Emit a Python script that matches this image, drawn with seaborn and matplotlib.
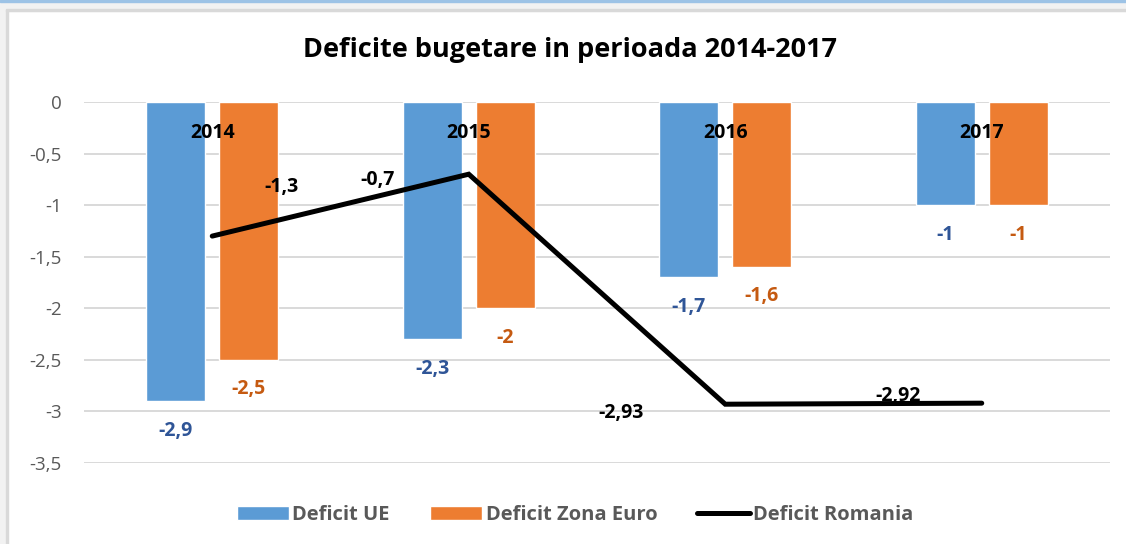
import pandas as pd
import matplotlib.pyplot as plt
from matplotlib.patches import Rectangle
import seaborn as sns

# Data
years = ['2014', '2015', '2016', '2017']
deficit_ue = [-2.9, -2.3, -1.7, -1.0]
deficit_euro = [-2.5, -2.0, -1.6, -1.0]
deficit_romania = [-1.3, -0.7, -2.93, -2.92]
ue_labels = ['-2,9', '-2,3', '-1,7', '-1']
euro_labels = ['-2,5', '-2', '-1,6', '-1']
ro_labels = ['-1,3', '-0,7', '-2,93', '-2,92']
yticks = [0, -0.5, -1, -1.5, -2, -2.5, -3, -3.5]
ytick_labels = ['0', '-0,5', '-1', '-1,5', '-2', '-2,5', '-3', '-3,5']

sns.set_theme(style='white')
plt.rcParams['font.family'] = ['Open Sans', 'DejaVu Sans']

df = pd.DataFrame({
    'an': years * 2,
    'valoare': deficit_ue + deficit_euro,
    'serie': ['Deficit UE'] * 4 + ['Deficit Zona Euro'] * 4,
})
df_ro = pd.DataFrame({'pos': range(len(years)), 'valoare': deficit_romania})

fig = plt.figure(figsize=(11.26, 5.44), dpi=100)
ax = fig.add_axes([84 / 1126, 1 - 463 / 544, (1110 - 84) / 1126, (463 - 102) / 544])

palette = {'Deficit UE': '#5B9BD5', 'Deficit Zona Euro': '#ED7D31'}
sns.barplot(data=df, x='an', y='valoare', hue='serie', palette=palette,
            width=0.57, gap=0.19, saturation=1, ax=ax, zorder=2)
sns.lineplot(data=df_ro, x='pos', y='valoare', color='black', linewidth=3.6,
             solid_capstyle='round', solid_joinstyle='miter',
             label='Deficit Romania', ax=ax, zorder=3)

ax.set_ylim(-3.5, 0)
ax.set_xlim(-0.5, 3.5)
ax.set_yticks(yticks, ytick_labels)
ax.set_xticks([])
ax.set_xlabel('')
ax.set_ylabel('')
ax.tick_params(axis='y', length=0, pad=16, labelsize=13.5, labelcolor='#595959')
ax.grid(axis='y', color='#D9D9D9', linewidth=1.4, zorder=0)
ax.set_axisbelow(True)
for s in ax.spines.values():
    s.set_visible(False)

# bar value labels
lab_font = dict(fontsize=14, fontweight='bold')
ax.bar_label(ax.containers[0], labels=ue_labels, padding=14, color='#2F5597', **lab_font)
ax.bar_label(ax.containers[1], labels=euro_labels, padding=14, color='#C55A11', **lab_font)

# category labels inside plot
for i, yr in enumerate(years):
    ax.text(i, -0.3, yr, ha='center', va='center', color='black', **lab_font)

# line labels
ro_offsets = [(50, 35), (-66, -4), (-75, -6), (-60, 5)]
for i, (v, lab) in enumerate(zip(deficit_romania, ro_labels)):
    ax.annotate(lab, (i, v), xytext=ro_offsets[i], textcoords='offset points',
                ha='center', va='center', color='black', **lab_font)

# legend
handles, labels = ax.get_legend_handles_labels()
order = ['Deficit UE', 'Deficit Zona Euro', 'Deficit Romania']
hmap = dict(zip(labels, handles))
leg = fig.legend([hmap[k] for k in order], order, loc='center',
                 bbox_to_anchor=(575 / 1126, 1 - 515 / 544), ncol=3,
                 frameon=False, handlelength=2.6, handletextpad=0.15,
                 columnspacing=2.0, prop={'size': 14.5, 'weight': 'bold'})
for t in leg.get_texts():
    t.set_color('#595959')
if ax.get_legend() is not None:
    ax.get_legend().remove()

fig.suptitle('Deficite bugetare in perioada 2014-2017', x=570 / 1126,
             y=1 - 50 / 544, va='center', fontsize=19.5, fontweight='bold',
             color='black')

# outer frame decoration
W, H = 1126, 544
fig.patches.append(Rectangle((0, 1 - 11 / H), 1, 11 / H, transform=fig.transFigure,
                             color='#F2F2F2', zorder=-1))
fig.patches.append(Rectangle((0, 0), 7 / W, 1, transform=fig.transFigure,
                             color='#F2F2F2', zorder=-1))
fig.patches.append(Rectangle((0, 1 - 2 / H), 1, 2 / H, transform=fig.transFigure,
                             color='#9DC3E6', zorder=0))
fig.patches.append(Rectangle((6 / W, 1 - 11 / H), 1, 1.5 / H, transform=fig.transFigure,
                             color='#D9D9D9', zorder=0))
fig.patches.append(Rectangle((6 / W, 0), 1.5 / W, 1 - 10 / H, transform=fig.transFigure,
                             color='#D9D9D9', zorder=0))

fig.savefig('out.png', dpi=100)
